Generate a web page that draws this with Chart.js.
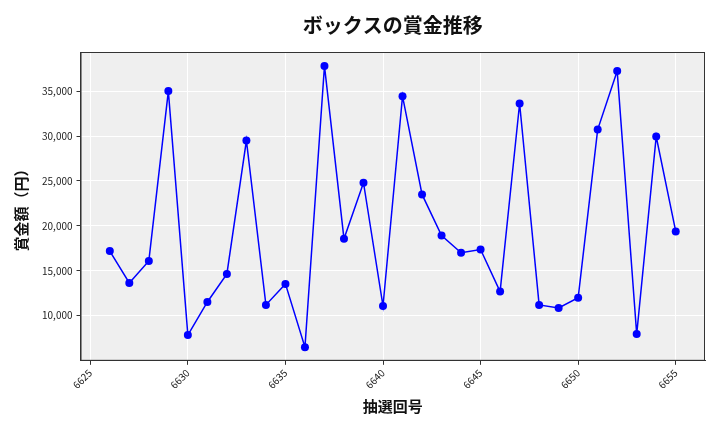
<!DOCTYPE html>
<html>
<head>
<meta charset="utf-8">
<script src="https://cdn.jsdelivr.net/npm/chart.js@4"></script>
<style>
  body { margin: 0; background: #fff; }
  #wrap { width: 720px; height: 432px; }
</style>
</head>
<body>
<div id="wrap"><canvas id="mycanvas" width="720" height="432"></canvas></div>
<script>
// 抽選回号と賞金額
var kaigo = [6626, 6627, 6628, 6629, 6630, 6631, 6632, 6633, 6634, 6635,
             6636, 6637, 6638, 6639, 6640, 6641, 6642, 6643, 6644, 6645,
             6646, 6647, 6648, 6649, 6650, 6651, 6652, 6653, 6654, 6655];
var shokin = [17200, 13650, 16100, 35000, 7850, 11530, 14650, 29500, 11200, 13540,
              6500, 37800, 18560, 24800, 11080, 34440, 23500, 18930, 17000, 17370,
              12680, 33620, 11200, 10860, 12000, 30720, 37230, 7950, 29950, 19380];
var xTicks = [6625, 6630, 6635, 6640, 6645, 6650, 6655];
var yTicks = [10000, 15000, 20000, 25000, 30000, 35000];
var titleText = 'ボックスの賞金推移';

var font = "'Noto Sans CJK JP', 'Noto Sans', sans-serif";

var points = [];
for (var i in kaigo) {
    points.push({x: kaigo[i], y: shokin[i]});
}

// plot area background, frame and title centred over the plot
var bgPlugin = {
    id: 'bg',
    beforeDraw: function(chart) {
        var a = chart.chartArea;
        var c = chart.ctx;
        c.save();
        c.fillStyle = '#efefef';
        c.fillRect(a.left, a.top, a.right - a.left, a.bottom - a.top);
        c.restore();
    },
    afterDraw: function(chart) {
        var a = chart.chartArea;
        var c = chart.ctx;
        c.save();
        c.strokeStyle = '#333';
        c.lineWidth = 1;
        c.strokeRect(a.left + 0.5, a.top + 0.5, a.right - a.left - 1, a.bottom - a.top - 1);
        c.fillStyle = '#111';
        c.font = "bold 20px " + font;
        c.textAlign = 'center';
        c.textBaseline = 'middle';
        c.fillText(titleText, (a.left + a.right) / 2, 25);
        c.restore();
    }
};

var ctx = document.getElementById('mycanvas');
var lineGraph = new Chart(ctx, {
    type: 'line',
    data: {
        datasets: [{
            label: 'ボックス',
            data: points,
            borderColor: '#0000ff',
            backgroundColor: '#0000ff',
            borderWidth: 1.5,
            pointRadius: 4,
            pointBorderWidth: 0,
            tension: 0
        }]
    },
    options: {
        responsive: false,
        animation: false,
        layout: { padding: { left: 8, right: 15, top: 52, bottom: 13 } },
        plugins: {
            legend: { display: false },
            tooltip: { enabled: false },
            title: { display: false }
        },
        scales: {
            x: {
                type: 'linear',
                min: 6624.5,
                max: 6656.5,
                afterBuildTicks: function(axis) {
                    axis.ticks = xTicks.map(function(v){ return {value: v}; });
                },
                ticks: {
                    color: '#222',
                    font: { family: font, size: 10 },
                    maxRotation: 45,
                    minRotation: 45,
                    padding: 2,
                    callback: function(v){ return String(v); }
                },
                grid: { color: '#ffffff', lineWidth: 1, tickLength: 4, tickColor: '#333' },
                border: { color: '#333', width: 1 },
                title: {
                    display: true,
                    text: '抽選回号',
                    color: '#111',
                    font: { family: font, size: 15, weight: 'bold' },
                    padding: { top: 4 }
                }
            },
            y: {
                min: 4978,
                max: 39353,
                afterBuildTicks: function(axis) {
                    axis.ticks = yTicks.map(function(v){ return {value: v}; });
                },
                ticks: {
                    color: '#222',
                    font: { family: font, size: 10 },
                    padding: 4,
                    callback: function(v){ return v.toLocaleString('en-US'); }
                },
                grid: { color: '#ffffff', lineWidth: 1, tickLength: 4, tickColor: '#333' },
                border: { color: '#333', width: 1 },
                title: {
                    display: true,
                    text: '賞金額（円）',
                    color: '#111',
                    font: { family: font, size: 15, weight: 'bold' },
                    padding: { bottom: 8 }
                }
            }
        }
    },
    plugins: [bgPlugin]
});
</script>
</body>
</html>
